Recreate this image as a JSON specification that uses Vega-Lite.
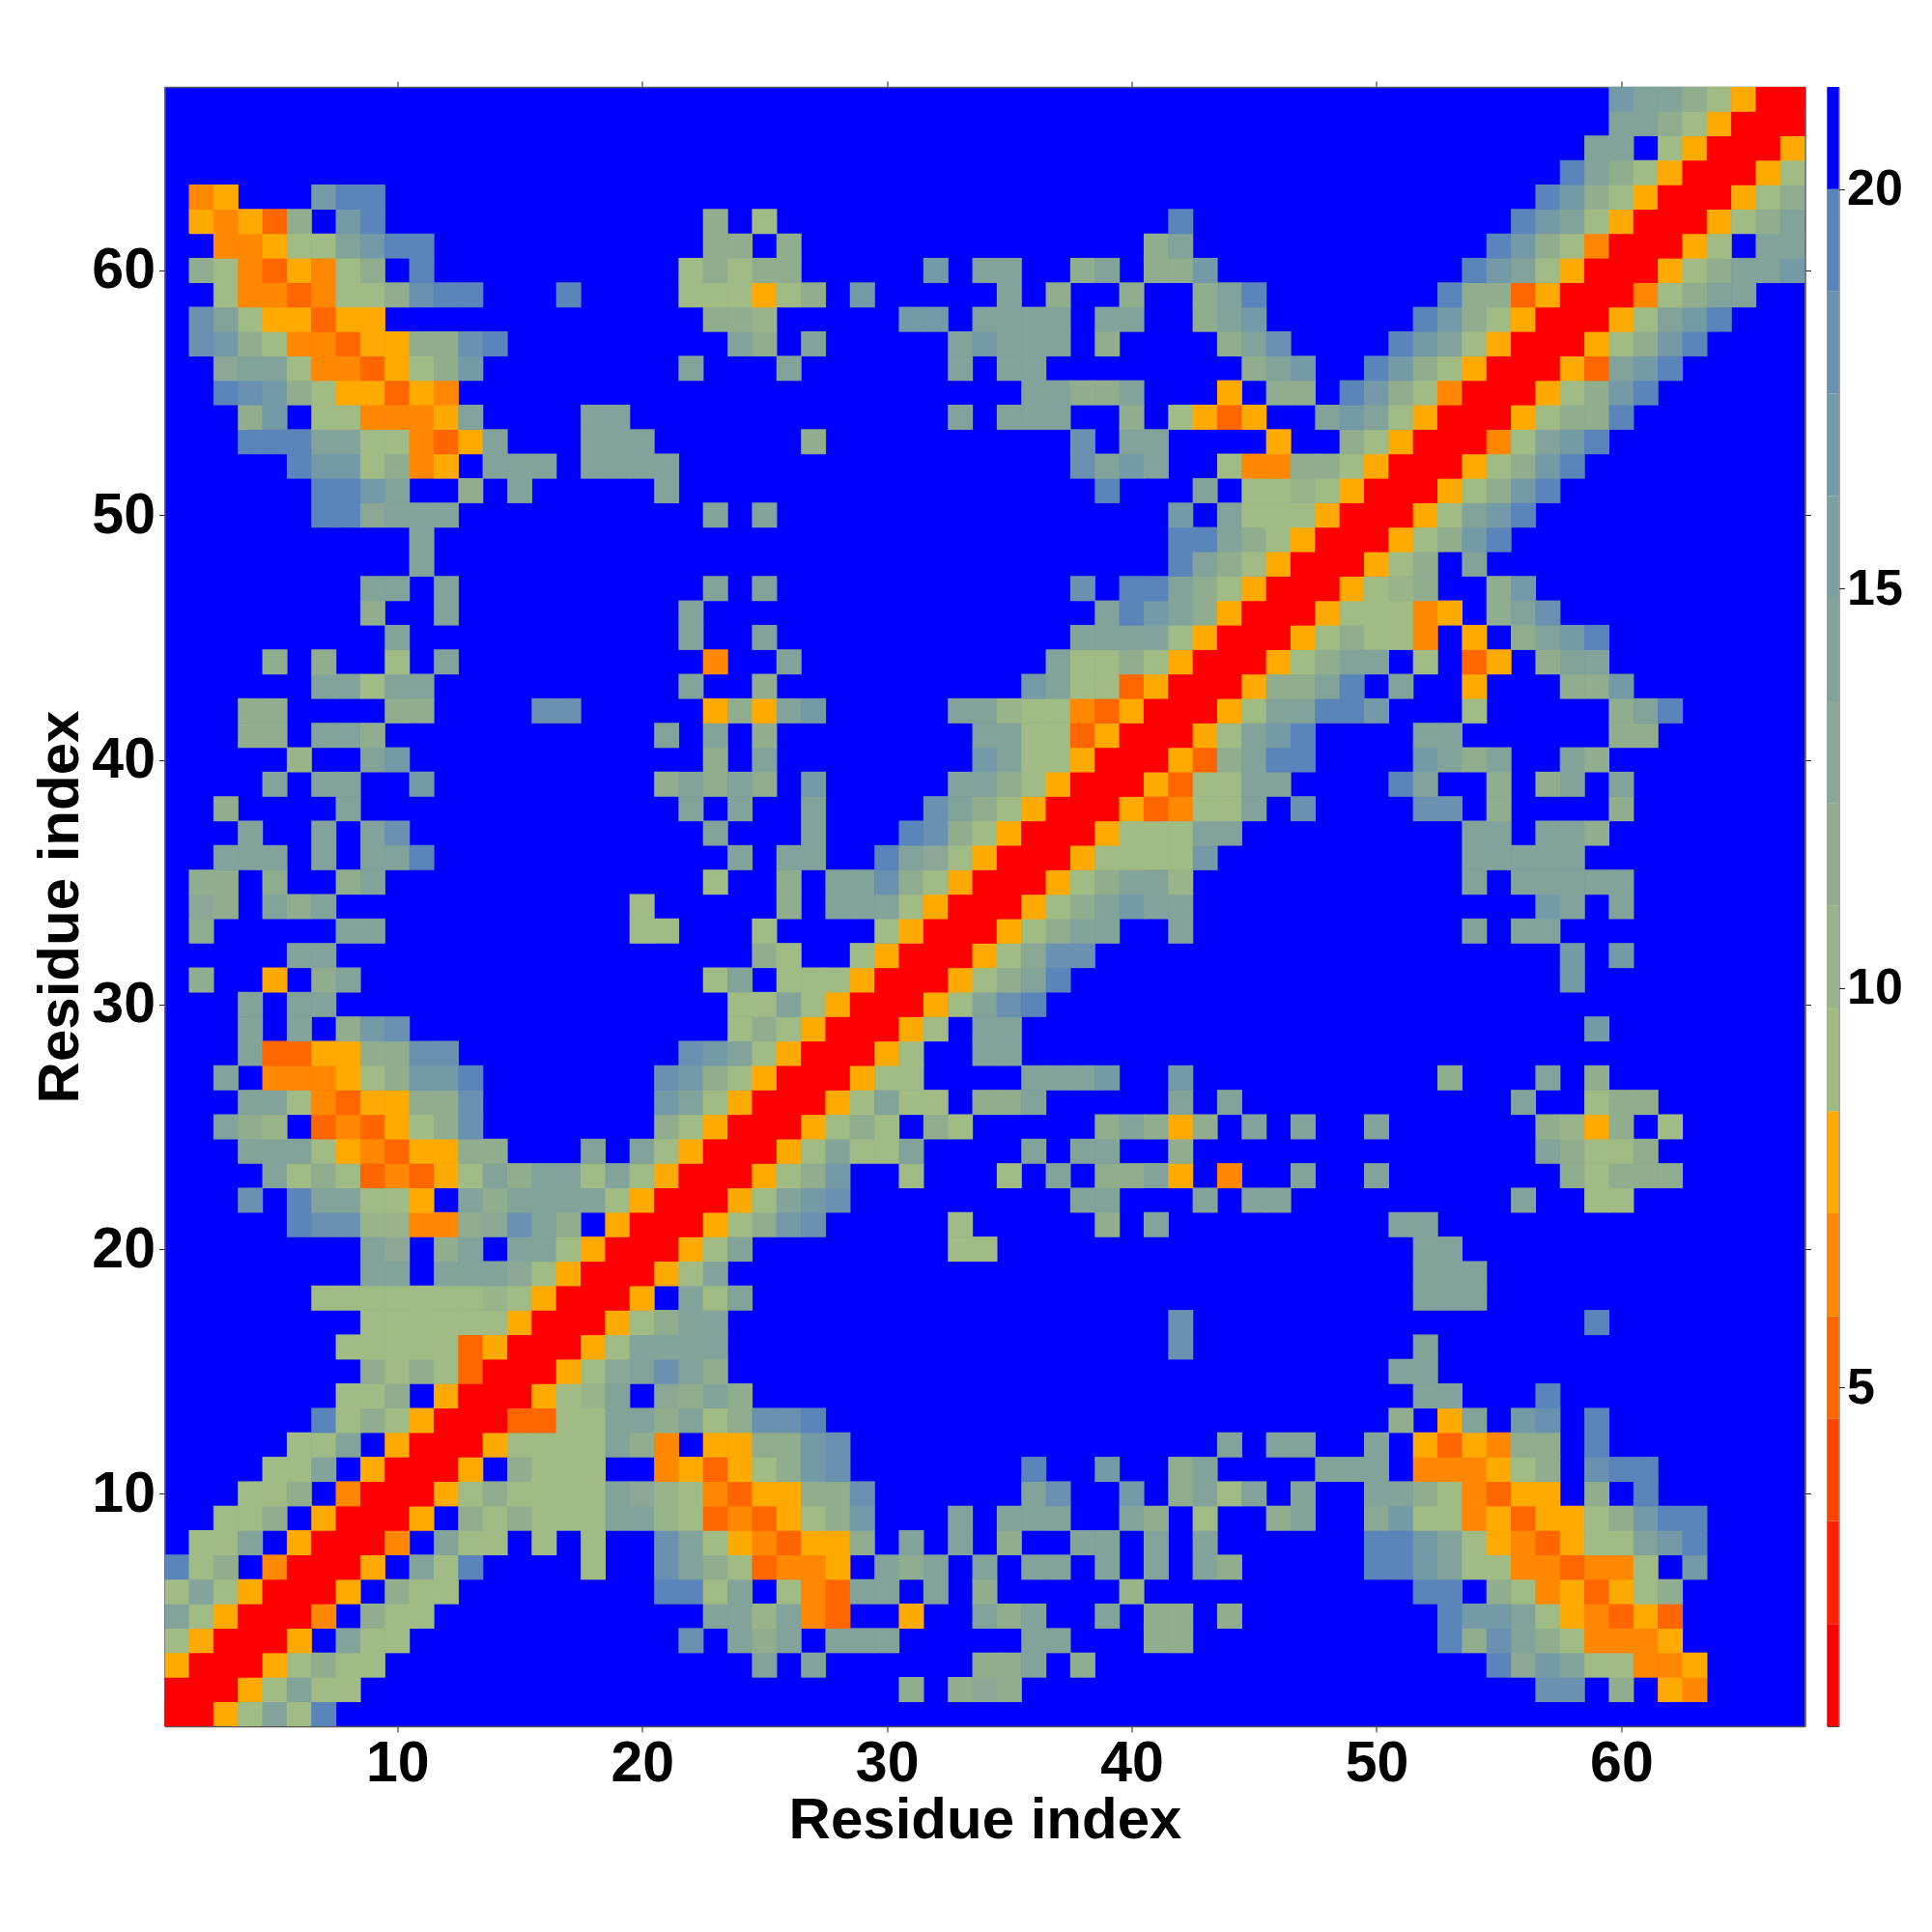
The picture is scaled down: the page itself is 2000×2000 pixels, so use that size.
{"$schema":"https://vega.github.io/schema/vega-lite/v6.json","background":"white","padding":{"left":32.5,"top":83,"right":10,"bottom":10},"bounds":"flush","spacing":23,"config":{"axis":{"labelFont":"Liberation Sans","labelFontWeight":"bold","titleFont":"Liberation Sans","titleFontWeight":"bold","labelColor":"black","titleColor":"black","grid":false,"tickColor":"#222222","tickWidth":1,"tickSize":6,"domainColor":"#555555","domainWidth":1.5}},"hconcat":[{"width":1698,"height":1697,"view":{"fill":"#0000ff","stroke":null},"data":{"values":[
{"y":1,"x":1,"v":1},{"y":1,"x":2,"v":1},{"y":1,"x":3,"v":8},{"y":1,"x":4,"v":9},{"y":1,"x":5,"v":14},{"y":1,"x":6,"v":9},{"y":1,"x":7,"v":19},
{"y":2,"x":2,"v":1},{"y":2,"x":3,"v":1},{"y":2,"x":4,"v":8},{"y":2,"x":5,"v":9},{"y":2,"x":6,"v":14},{"y":2,"x":7,"v":9},{"y":2,"x":8,"v":9},{"y":2,"x":31,"v":12},{"y":2,"x":33,"v":12},{"y":2,"x":34,"v":13},{"y":2,"x":35,"v":12},{"y":2,"x":57,"v":18},{"y":2,"x":58,"v":18},{"y":2,"x":60,"v":12},{"y":2,"x":62,"v":8},{"y":2,"x":63,"v":6},
{"y":3,"x":3,"v":1},{"y":3,"x":4,"v":1},{"y":3,"x":5,"v":8},{"y":3,"x":6,"v":9},{"y":3,"x":7,"v":12},{"y":3,"x":8,"v":9},{"y":3,"x":9,"v":9},{"y":3,"x":25,"v":14},{"y":3,"x":27,"v":14},{"y":3,"x":34,"v":12},{"y":3,"x":35,"v":12},{"y":3,"x":36,"v":14},{"y":3,"x":38,"v":12},{"y":3,"x":55,"v":19},{"y":3,"x":56,"v":13},{"y":3,"x":57,"v":17},{"y":3,"x":58,"v":14},{"y":3,"x":59,"v":9},{"y":3,"x":60,"v":9},{"y":3,"x":61,"v":6},{"y":3,"x":62,"v":6},{"y":3,"x":63,"v":8},
{"y":4,"x":4,"v":1},{"y":4,"x":5,"v":1},{"y":4,"x":6,"v":8},{"y":4,"x":8,"v":14},{"y":4,"x":9,"v":9},{"y":4,"x":10,"v":9},{"y":4,"x":22,"v":18},{"y":4,"x":24,"v":14},{"y":4,"x":25,"v":12},{"y":4,"x":26,"v":14},{"y":4,"x":28,"v":14},{"y":4,"x":29,"v":14},{"y":4,"x":30,"v":14},{"y":4,"x":36,"v":14},{"y":4,"x":37,"v":14},{"y":4,"x":41,"v":12},{"y":4,"x":42,"v":12},{"y":4,"x":53,"v":19},{"y":4,"x":54,"v":12},{"y":4,"x":55,"v":18},{"y":4,"x":56,"v":14},{"y":4,"x":57,"v":12},{"y":4,"x":58,"v":9},{"y":4,"x":59,"v":6},{"y":4,"x":60,"v":6},{"y":4,"x":61,"v":6},{"y":4,"x":62,"v":8},
{"y":5,"x":5,"v":1},{"y":5,"x":6,"v":1},{"y":5,"x":7,"v":6},{"y":5,"x":9,"v":12},{"y":5,"x":10,"v":9},{"y":5,"x":11,"v":9},{"y":5,"x":23,"v":14},{"y":5,"x":24,"v":14},{"y":5,"x":25,"v":10},{"y":5,"x":26,"v":14},{"y":5,"x":27,"v":6},{"y":5,"x":28,"v":5},{"y":5,"x":31,"v":8},{"y":5,"x":34,"v":14},{"y":5,"x":35,"v":12},{"y":5,"x":36,"v":14},{"y":5,"x":39,"v":14},{"y":5,"x":41,"v":12},{"y":5,"x":42,"v":12},{"y":5,"x":44,"v":12},{"y":5,"x":53,"v":19},{"y":5,"x":54,"v":17},{"y":5,"x":55,"v":17},{"y":5,"x":56,"v":14},{"y":5,"x":57,"v":9},{"y":5,"x":58,"v":8},{"y":5,"x":59,"v":6},{"y":5,"x":60,"v":5},{"y":5,"x":61,"v":8},{"y":5,"x":62,"v":5},
{"y":6,"x":6,"v":1},{"y":6,"x":7,"v":1},{"y":6,"x":8,"v":8},{"y":6,"x":10,"v":12},{"y":6,"x":11,"v":9},{"y":6,"x":12,"v":9},{"y":6,"x":21,"v":19},{"y":6,"x":22,"v":19},{"y":6,"x":23,"v":9},{"y":6,"x":24,"v":14},{"y":6,"x":26,"v":9},{"y":6,"x":27,"v":6},{"y":6,"x":28,"v":5},{"y":6,"x":29,"v":14},{"y":6,"x":30,"v":14},{"y":6,"x":32,"v":14},{"y":6,"x":34,"v":12},{"y":6,"x":40,"v":10},{"y":6,"x":52,"v":19},{"y":6,"x":53,"v":19},{"y":6,"x":55,"v":12},{"y":6,"x":56,"v":9},{"y":6,"x":57,"v":6},{"y":6,"x":58,"v":8},{"y":6,"x":59,"v":5},{"y":6,"x":60,"v":8},{"y":6,"x":61,"v":9},{"y":6,"x":62,"v":12},
{"y":7,"x":7,"v":1},{"y":7,"x":8,"v":1},{"y":7,"x":9,"v":8},{"y":7,"x":11,"v":14},{"y":7,"x":12,"v":9},{"y":7,"x":13,"v":19},{"y":7,"x":18,"v":9},{"y":7,"x":21,"v":18},{"y":7,"x":22,"v":14},{"y":7,"x":23,"v":12},{"y":7,"x":24,"v":9},{"y":7,"x":25,"v":5},{"y":7,"x":26,"v":6},{"y":7,"x":27,"v":6},{"y":7,"x":28,"v":8},{"y":7,"x":30,"v":14},{"y":7,"x":31,"v":12},{"y":7,"x":32,"v":14},{"y":7,"x":34,"v":14},{"y":7,"x":36,"v":14},{"y":7,"x":37,"v":14},{"y":7,"x":39,"v":14},{"y":7,"x":41,"v":14},{"y":7,"x":43,"v":14},{"y":7,"x":44,"v":12},{"y":7,"x":50,"v":19},{"y":7,"x":51,"v":19},{"y":7,"x":52,"v":17},{"y":7,"x":53,"v":14},{"y":7,"x":54,"v":9},{"y":7,"x":55,"v":9},{"y":7,"x":56,"v":6},{"y":7,"x":57,"v":6},{"y":7,"x":58,"v":5},{"y":7,"x":59,"v":6},{"y":7,"x":60,"v":6},{"y":7,"x":61,"v":9},{"y":7,"x":63,"v":17},
{"y":8,"x":8,"v":1},{"y":8,"x":9,"v":1},{"y":8,"x":10,"v":6},{"y":8,"x":12,"v":14},{"y":8,"x":13,"v":9},{"y":8,"x":14,"v":9},{"y":8,"x":16,"v":9},{"y":8,"x":18,"v":9},{"y":8,"x":21,"v":18},{"y":8,"x":22,"v":14},{"y":8,"x":23,"v":9},{"y":8,"x":24,"v":8},{"y":8,"x":25,"v":6},{"y":8,"x":26,"v":5},{"y":8,"x":27,"v":8},{"y":8,"x":28,"v":8},{"y":8,"x":29,"v":12},{"y":8,"x":31,"v":14},{"y":8,"x":33,"v":14},{"y":8,"x":35,"v":12},{"y":8,"x":38,"v":14},{"y":8,"x":39,"v":14},{"y":8,"x":41,"v":14},{"y":8,"x":43,"v":14},{"y":8,"x":50,"v":19},{"y":8,"x":51,"v":19},{"y":8,"x":52,"v":17},{"y":8,"x":53,"v":14},{"y":8,"x":54,"v":9},{"y":8,"x":55,"v":8},{"y":8,"x":56,"v":6},{"y":8,"x":57,"v":5},{"y":8,"x":58,"v":8},{"y":8,"x":59,"v":9},{"y":8,"x":60,"v":9},{"y":8,"x":61,"v":14},{"y":8,"x":62,"v":17},{"y":8,"x":63,"v":19},
{"y":9,"x":9,"v":1},{"y":9,"x":10,"v":1},{"y":9,"x":11,"v":8},{"y":9,"x":13,"v":12},{"y":9,"x":14,"v":9},{"y":9,"x":15,"v":12},{"y":9,"x":16,"v":9},{"y":9,"x":17,"v":9},{"y":9,"x":18,"v":9},{"y":9,"x":19,"v":14},{"y":9,"x":20,"v":14},{"y":9,"x":21,"v":10},{"y":9,"x":22,"v":9},{"y":9,"x":23,"v":5},{"y":9,"x":24,"v":6},{"y":9,"x":25,"v":5},{"y":9,"x":26,"v":8},{"y":9,"x":27,"v":9},{"y":9,"x":28,"v":12},{"y":9,"x":29,"v":17},{"y":9,"x":33,"v":14},{"y":9,"x":35,"v":14},{"y":9,"x":36,"v":14},{"y":9,"x":37,"v":14},{"y":9,"x":40,"v":14},{"y":9,"x":41,"v":12},{"y":9,"x":43,"v":9},{"y":9,"x":46,"v":12},{"y":9,"x":47,"v":14},{"y":9,"x":50,"v":13},{"y":9,"x":51,"v":17},{"y":9,"x":52,"v":9},{"y":9,"x":53,"v":9},{"y":9,"x":54,"v":6},{"y":9,"x":55,"v":8},{"y":9,"x":56,"v":5},{"y":9,"x":57,"v":8},{"y":9,"x":58,"v":8},{"y":9,"x":59,"v":9},{"y":9,"x":60,"v":12},{"y":9,"x":61,"v":17},{"y":9,"x":62,"v":19},{"y":9,"x":63,"v":19},
{"y":10,"x":10,"v":1},{"y":10,"x":11,"v":1},{"y":10,"x":12,"v":8},{"y":10,"x":13,"v":9},{"y":10,"x":14,"v":12},{"y":10,"x":15,"v":9},{"y":10,"x":16,"v":9},{"y":10,"x":17,"v":9},{"y":10,"x":18,"v":9},{"y":10,"x":19,"v":14},{"y":10,"x":20,"v":13},{"y":10,"x":21,"v":10},{"y":10,"x":22,"v":9},{"y":10,"x":23,"v":6},{"y":10,"x":24,"v":5},{"y":10,"x":25,"v":8},{"y":10,"x":26,"v":8},{"y":10,"x":27,"v":12},{"y":10,"x":28,"v":12},{"y":10,"x":29,"v":18},{"y":10,"x":36,"v":14},{"y":10,"x":37,"v":18},{"y":10,"x":40,"v":17},{"y":10,"x":42,"v":12},{"y":10,"x":43,"v":14},{"y":10,"x":44,"v":9},{"y":10,"x":45,"v":14},{"y":10,"x":47,"v":14},{"y":10,"x":50,"v":14},{"y":10,"x":51,"v":14},{"y":10,"x":52,"v":12},{"y":10,"x":53,"v":9},{"y":10,"x":54,"v":6},{"y":10,"x":55,"v":5},{"y":10,"x":56,"v":8},{"y":10,"x":57,"v":8},{"y":10,"x":59,"v":12},{"y":10,"x":61,"v":19},
{"y":11,"x":11,"v":1},{"y":11,"x":12,"v":1},{"y":11,"x":13,"v":8},{"y":11,"x":15,"v":12},{"y":11,"x":16,"v":9},{"y":11,"x":17,"v":9},{"y":11,"x":18,"v":9},{"y":11,"x":21,"v":6},{"y":11,"x":22,"v":8},{"y":11,"x":23,"v":5},{"y":11,"x":24,"v":8},{"y":11,"x":25,"v":9},{"y":11,"x":26,"v":12},{"y":11,"x":27,"v":17},{"y":11,"x":28,"v":18},{"y":11,"x":36,"v":19},{"y":11,"x":39,"v":17},{"y":11,"x":42,"v":12},{"y":11,"x":43,"v":14},{"y":11,"x":48,"v":14},{"y":11,"x":49,"v":14},{"y":11,"x":50,"v":14},{"y":11,"x":52,"v":6},{"y":11,"x":53,"v":6},{"y":11,"x":54,"v":6},{"y":11,"x":55,"v":8},{"y":11,"x":56,"v":9},{"y":11,"x":57,"v":12},{"y":11,"x":59,"v":18},{"y":11,"x":60,"v":19},{"y":11,"x":61,"v":19},
{"y":12,"x":12,"v":1},{"y":12,"x":13,"v":1},{"y":12,"x":14,"v":8},{"y":12,"x":15,"v":9},{"y":12,"x":16,"v":9},{"y":12,"x":17,"v":9},{"y":12,"x":18,"v":9},{"y":12,"x":19,"v":14},{"y":12,"x":20,"v":12},{"y":12,"x":21,"v":6},{"y":12,"x":23,"v":8},{"y":12,"x":24,"v":8},{"y":12,"x":25,"v":12},{"y":12,"x":26,"v":12},{"y":12,"x":27,"v":17},{"y":12,"x":28,"v":18},{"y":12,"x":44,"v":14},{"y":12,"x":46,"v":14},{"y":12,"x":47,"v":14},{"y":12,"x":50,"v":14},{"y":12,"x":52,"v":8},{"y":12,"x":53,"v":5},{"y":12,"x":54,"v":8},{"y":12,"x":55,"v":6},{"y":12,"x":56,"v":12},{"y":12,"x":57,"v":12},{"y":12,"x":59,"v":19},
{"y":13,"x":13,"v":1},{"y":13,"x":14,"v":1},{"y":13,"x":15,"v":5},{"y":13,"x":16,"v":5},{"y":13,"x":17,"v":9},{"y":13,"x":18,"v":9},{"y":13,"x":19,"v":14},{"y":13,"x":20,"v":14},{"y":13,"x":21,"v":12},{"y":13,"x":22,"v":14},{"y":13,"x":23,"v":9},{"y":13,"x":24,"v":12},{"y":13,"x":25,"v":18},{"y":13,"x":26,"v":18},{"y":13,"x":27,"v":19},{"y":13,"x":51,"v":12},{"y":13,"x":53,"v":8},{"y":13,"x":54,"v":14},{"y":13,"x":56,"v":17},{"y":13,"x":57,"v":18},{"y":13,"x":59,"v":19},
{"y":14,"x":14,"v":1},{"y":14,"x":15,"v":1},{"y":14,"x":16,"v":8},{"y":14,"x":17,"v":9},{"y":14,"x":18,"v":10},{"y":14,"x":19,"v":14},{"y":14,"x":21,"v":13},{"y":14,"x":22,"v":12},{"y":14,"x":23,"v":14},{"y":14,"x":24,"v":12},{"y":14,"x":52,"v":14},{"y":14,"x":53,"v":14},{"y":14,"x":57,"v":19},
{"y":15,"x":15,"v":1},{"y":15,"x":16,"v":1},{"y":15,"x":17,"v":8},{"y":15,"x":18,"v":9},{"y":15,"x":19,"v":13},{"y":15,"x":20,"v":14},{"y":15,"x":21,"v":18},{"y":15,"x":22,"v":14},{"y":15,"x":23,"v":12},{"y":15,"x":51,"v":14},{"y":15,"x":52,"v":14},
{"y":16,"x":16,"v":1},{"y":16,"x":17,"v":1},{"y":16,"x":18,"v":8},{"y":16,"x":19,"v":9},{"y":16,"x":20,"v":14},{"y":16,"x":21,"v":14},{"y":16,"x":22,"v":14},{"y":16,"x":23,"v":14},{"y":16,"x":42,"v":18},{"y":16,"x":52,"v":14},
{"y":17,"x":17,"v":1},{"y":17,"x":18,"v":1},{"y":17,"x":19,"v":8},{"y":17,"x":20,"v":9},{"y":17,"x":21,"v":12},{"y":17,"x":22,"v":14},{"y":17,"x":23,"v":14},{"y":17,"x":42,"v":18},{"y":17,"x":59,"v":19},
{"y":18,"x":18,"v":1},{"y":18,"x":19,"v":1},{"y":18,"x":20,"v":8},{"y":18,"x":22,"v":14},{"y":18,"x":23,"v":9},{"y":18,"x":24,"v":14},{"y":18,"x":52,"v":14},{"y":18,"x":53,"v":14},{"y":18,"x":54,"v":14},
{"y":19,"x":19,"v":1},{"y":19,"x":20,"v":1},{"y":19,"x":21,"v":8},{"y":19,"x":22,"v":9},{"y":19,"x":23,"v":14},{"y":19,"x":52,"v":14},{"y":19,"x":53,"v":14},{"y":19,"x":54,"v":14},
{"y":20,"x":20,"v":1},{"y":20,"x":21,"v":1},{"y":20,"x":22,"v":8},{"y":20,"x":23,"v":9},{"y":20,"x":24,"v":14},{"y":20,"x":33,"v":9},{"y":20,"x":34,"v":9},{"y":20,"x":52,"v":14},{"y":20,"x":53,"v":14},
{"y":21,"x":21,"v":1},{"y":21,"x":22,"v":1},{"y":21,"x":23,"v":8},{"y":21,"x":24,"v":9},{"y":21,"x":25,"v":12},{"y":21,"x":26,"v":17},{"y":21,"x":27,"v":18},{"y":21,"x":33,"v":9},{"y":21,"x":39,"v":12},{"y":21,"x":41,"v":14},{"y":21,"x":51,"v":14},{"y":21,"x":52,"v":14},
{"y":22,"x":22,"v":1},{"y":22,"x":23,"v":1},{"y":22,"x":24,"v":8},{"y":22,"x":25,"v":9},{"y":22,"x":26,"v":14},{"y":22,"x":27,"v":17},{"y":22,"x":28,"v":18},{"y":22,"x":38,"v":14},{"y":22,"x":39,"v":14},{"y":22,"x":43,"v":14},{"y":22,"x":45,"v":14},{"y":22,"x":46,"v":14},{"y":22,"x":56,"v":14},{"y":22,"x":59,"v":9},{"y":22,"x":60,"v":9},
{"y":23,"x":23,"v":1},{"y":23,"x":24,"v":1},{"y":23,"x":25,"v":8},{"y":23,"x":26,"v":9},{"y":23,"x":27,"v":12},{"y":23,"x":28,"v":17},{"y":23,"x":31,"v":9},{"y":23,"x":35,"v":9},{"y":23,"x":37,"v":14},{"y":23,"x":39,"v":12},{"y":23,"x":40,"v":12},{"y":23,"x":41,"v":14},{"y":23,"x":42,"v":8},{"y":23,"x":44,"v":6},{"y":23,"x":47,"v":14},{"y":23,"x":50,"v":14},{"y":23,"x":58,"v":12},{"y":23,"x":59,"v":9},{"y":23,"x":60,"v":12},{"y":23,"x":61,"v":12},{"y":23,"x":62,"v":12},
{"y":24,"x":24,"v":1},{"y":24,"x":25,"v":1},{"y":24,"x":26,"v":8},{"y":24,"x":27,"v":9},{"y":24,"x":28,"v":14},{"y":24,"x":29,"v":9},{"y":24,"x":30,"v":9},{"y":24,"x":31,"v":14},{"y":24,"x":36,"v":14},{"y":24,"x":38,"v":14},{"y":24,"x":39,"v":14},{"y":24,"x":42,"v":12},{"y":24,"x":57,"v":14},{"y":24,"x":58,"v":12},{"y":24,"x":59,"v":9},{"y":24,"x":60,"v":9},{"y":24,"x":61,"v":12},
{"y":25,"x":25,"v":1},{"y":25,"x":26,"v":1},{"y":25,"x":27,"v":8},{"y":25,"x":28,"v":9},{"y":25,"x":29,"v":12},{"y":25,"x":30,"v":9},{"y":25,"x":32,"v":12},{"y":25,"x":33,"v":9},{"y":25,"x":39,"v":12},{"y":25,"x":40,"v":14},{"y":25,"x":41,"v":12},{"y":25,"x":42,"v":8},{"y":25,"x":43,"v":12},{"y":25,"x":45,"v":14},{"y":25,"x":47,"v":14},{"y":25,"x":50,"v":14},{"y":25,"x":57,"v":12},{"y":25,"x":58,"v":10},{"y":25,"x":59,"v":8},{"y":25,"x":60,"v":12},{"y":25,"x":62,"v":9},
{"y":26,"x":26,"v":1},{"y":26,"x":27,"v":1},{"y":26,"x":28,"v":8},{"y":26,"x":29,"v":9},{"y":26,"x":30,"v":14},{"y":26,"x":31,"v":9},{"y":26,"x":32,"v":9},{"y":26,"x":34,"v":12},{"y":26,"x":35,"v":12},{"y":26,"x":36,"v":14},{"y":26,"x":42,"v":14},{"y":26,"x":44,"v":14},{"y":26,"x":56,"v":14},{"y":26,"x":59,"v":9},{"y":26,"x":60,"v":12},{"y":26,"x":61,"v":12},
{"y":27,"x":27,"v":1},{"y":27,"x":28,"v":1},{"y":27,"x":29,"v":8},{"y":27,"x":30,"v":9},{"y":27,"x":31,"v":9},{"y":27,"x":36,"v":14},{"y":27,"x":37,"v":14},{"y":27,"x":38,"v":14},{"y":27,"x":39,"v":17},{"y":27,"x":42,"v":17},{"y":27,"x":53,"v":12},{"y":27,"x":57,"v":14},{"y":27,"x":59,"v":12},
{"y":28,"x":28,"v":1},{"y":28,"x":29,"v":1},{"y":28,"x":30,"v":8},{"y":28,"x":31,"v":9},{"y":28,"x":34,"v":14},{"y":28,"x":35,"v":14},
{"y":29,"x":29,"v":1},{"y":29,"x":30,"v":1},{"y":29,"x":31,"v":8},{"y":29,"x":32,"v":9},{"y":29,"x":34,"v":14},{"y":29,"x":35,"v":14},{"y":29,"x":59,"v":17},
{"y":30,"x":30,"v":1},{"y":30,"x":31,"v":1},{"y":30,"x":32,"v":8},{"y":30,"x":33,"v":9},{"y":30,"x":34,"v":14},{"y":30,"x":35,"v":18},{"y":30,"x":36,"v":19},
{"y":31,"x":31,"v":1},{"y":31,"x":32,"v":1},{"y":31,"x":33,"v":8},{"y":31,"x":34,"v":9},{"y":31,"x":35,"v":12},{"y":31,"x":36,"v":14},{"y":31,"x":37,"v":19},{"y":31,"x":58,"v":17},
{"y":32,"x":32,"v":1},{"y":32,"x":33,"v":1},{"y":32,"x":34,"v":8},{"y":32,"x":35,"v":9},{"y":32,"x":36,"v":13},{"y":32,"x":37,"v":18},{"y":32,"x":38,"v":18},{"y":32,"x":58,"v":17},{"y":32,"x":60,"v":17},
{"y":33,"x":33,"v":1},{"y":33,"x":34,"v":1},{"y":33,"x":35,"v":8},{"y":33,"x":36,"v":9},{"y":33,"x":37,"v":12},{"y":33,"x":38,"v":14},{"y":33,"x":39,"v":14},{"y":33,"x":42,"v":14},{"y":33,"x":54,"v":14},{"y":33,"x":56,"v":14},{"y":33,"x":57,"v":14},
{"y":34,"x":34,"v":1},{"y":34,"x":35,"v":1},{"y":34,"x":36,"v":8},{"y":34,"x":37,"v":9},{"y":34,"x":38,"v":12},{"y":34,"x":39,"v":14},{"y":34,"x":40,"v":17},{"y":34,"x":41,"v":14},{"y":34,"x":42,"v":14},{"y":34,"x":57,"v":17},{"y":34,"x":58,"v":14},{"y":34,"x":60,"v":14},
{"y":35,"x":35,"v":1},{"y":35,"x":36,"v":1},{"y":35,"x":37,"v":8},{"y":35,"x":38,"v":9},{"y":35,"x":39,"v":12},{"y":35,"x":40,"v":14},{"y":35,"x":41,"v":14},{"y":35,"x":42,"v":10},{"y":35,"x":54,"v":14},{"y":35,"x":56,"v":14},{"y":35,"x":57,"v":14},{"y":35,"x":58,"v":14},{"y":35,"x":59,"v":14},{"y":35,"x":60,"v":14},
{"y":36,"x":36,"v":1},{"y":36,"x":37,"v":1},{"y":36,"x":38,"v":8},{"y":36,"x":39,"v":9},{"y":36,"x":40,"v":9},{"y":36,"x":41,"v":9},{"y":36,"x":42,"v":9},{"y":36,"x":43,"v":17},{"y":36,"x":54,"v":14},{"y":36,"x":55,"v":14},{"y":36,"x":56,"v":14},{"y":36,"x":57,"v":14},{"y":36,"x":58,"v":14},
{"y":37,"x":37,"v":1},{"y":37,"x":38,"v":1},{"y":37,"x":39,"v":8},{"y":37,"x":40,"v":9},{"y":37,"x":41,"v":9},{"y":37,"x":42,"v":9},{"y":37,"x":43,"v":14},{"y":37,"x":44,"v":14},{"y":37,"x":54,"v":14},{"y":37,"x":55,"v":14},{"y":37,"x":57,"v":14},{"y":37,"x":58,"v":14},{"y":37,"x":59,"v":12},
{"y":38,"x":38,"v":1},{"y":38,"x":39,"v":1},{"y":38,"x":40,"v":8},{"y":38,"x":41,"v":5},{"y":38,"x":42,"v":6},{"y":38,"x":43,"v":9},{"y":38,"x":44,"v":9},{"y":38,"x":45,"v":14},{"y":38,"x":47,"v":18},{"y":38,"x":52,"v":18},{"y":38,"x":53,"v":18},{"y":38,"x":55,"v":12},{"y":38,"x":60,"v":12},
{"y":39,"x":39,"v":1},{"y":39,"x":40,"v":1},{"y":39,"x":41,"v":8},{"y":39,"x":42,"v":5},{"y":39,"x":43,"v":9},{"y":39,"x":44,"v":9},{"y":39,"x":45,"v":14},{"y":39,"x":46,"v":14},{"y":39,"x":51,"v":19},{"y":39,"x":52,"v":14},{"y":39,"x":55,"v":12},{"y":39,"x":57,"v":12},{"y":39,"x":58,"v":14},{"y":39,"x":60,"v":14},
{"y":40,"x":40,"v":1},{"y":40,"x":41,"v":1},{"y":40,"x":42,"v":8},{"y":40,"x":43,"v":5},{"y":40,"x":44,"v":12},{"y":40,"x":45,"v":14},{"y":40,"x":46,"v":19},{"y":40,"x":47,"v":19},{"y":40,"x":52,"v":17},{"y":40,"x":53,"v":14},{"y":40,"x":54,"v":12},{"y":40,"x":55,"v":14},{"y":40,"x":58,"v":14},{"y":40,"x":59,"v":12},
{"y":41,"x":41,"v":1},{"y":41,"x":42,"v":1},{"y":41,"x":43,"v":8},{"y":41,"x":44,"v":9},{"y":41,"x":45,"v":14},{"y":41,"x":46,"v":17},{"y":41,"x":47,"v":19},{"y":41,"x":52,"v":14},{"y":41,"x":53,"v":14},{"y":41,"x":60,"v":12},{"y":41,"x":61,"v":12},
{"y":42,"x":42,"v":1},{"y":42,"x":43,"v":1},{"y":42,"x":44,"v":8},{"y":42,"x":45,"v":9},{"y":42,"x":46,"v":14},{"y":42,"x":47,"v":14},{"y":42,"x":48,"v":19},{"y":42,"x":49,"v":19},{"y":42,"x":50,"v":17},{"y":42,"x":54,"v":9},{"y":42,"x":60,"v":12},{"y":42,"x":61,"v":14},{"y":42,"x":62,"v":19},
{"y":43,"x":43,"v":1},{"y":43,"x":44,"v":1},{"y":43,"x":45,"v":8},{"y":43,"x":46,"v":12},{"y":43,"x":47,"v":12},{"y":43,"x":48,"v":14},{"y":43,"x":49,"v":19},{"y":43,"x":51,"v":14},{"y":43,"x":54,"v":8},{"y":43,"x":58,"v":12},{"y":43,"x":59,"v":12},{"y":43,"x":60,"v":17},
{"y":44,"x":44,"v":1},{"y":44,"x":45,"v":1},{"y":44,"x":46,"v":8},{"y":44,"x":47,"v":9},{"y":44,"x":48,"v":12},{"y":44,"x":49,"v":14},{"y":44,"x":50,"v":14},{"y":44,"x":52,"v":9},{"y":44,"x":54,"v":5},{"y":44,"x":55,"v":8},{"y":44,"x":57,"v":12},{"y":44,"x":58,"v":14},{"y":44,"x":59,"v":14},
{"y":45,"x":45,"v":1},{"y":45,"x":46,"v":1},{"y":45,"x":47,"v":8},{"y":45,"x":48,"v":9},{"y":45,"x":49,"v":12},{"y":45,"x":50,"v":9},{"y":45,"x":51,"v":9},{"y":45,"x":52,"v":6},{"y":45,"x":54,"v":8},{"y":45,"x":56,"v":12},{"y":45,"x":57,"v":14},{"y":45,"x":58,"v":17},{"y":45,"x":59,"v":19},
{"y":46,"x":46,"v":1},{"y":46,"x":47,"v":1},{"y":46,"x":48,"v":8},{"y":46,"x":49,"v":9},{"y":46,"x":50,"v":9},{"y":46,"x":51,"v":9},{"y":46,"x":52,"v":6},{"y":46,"x":53,"v":8},{"y":46,"x":55,"v":12},{"y":46,"x":56,"v":14},{"y":46,"x":57,"v":18},
{"y":47,"x":47,"v":1},{"y":47,"x":48,"v":1},{"y":47,"x":49,"v":8},{"y":47,"x":50,"v":9},{"y":47,"x":51,"v":10},{"y":47,"x":52,"v":12},{"y":47,"x":55,"v":12},{"y":47,"x":56,"v":17},
{"y":48,"x":48,"v":1},{"y":48,"x":49,"v":1},{"y":48,"x":50,"v":8},{"y":48,"x":51,"v":9},{"y":48,"x":52,"v":12},{"y":48,"x":54,"v":14},
{"y":49,"x":49,"v":1},{"y":49,"x":50,"v":1},{"y":49,"x":51,"v":8},{"y":49,"x":52,"v":9},{"y":49,"x":53,"v":12},{"y":49,"x":54,"v":17},{"y":49,"x":55,"v":19},
{"y":50,"x":50,"v":1},{"y":50,"x":51,"v":1},{"y":50,"x":52,"v":8},{"y":50,"x":53,"v":9},{"y":50,"x":54,"v":14},{"y":50,"x":55,"v":17},{"y":50,"x":56,"v":19},
{"y":51,"x":51,"v":1},{"y":51,"x":52,"v":1},{"y":51,"x":53,"v":8},{"y":51,"x":54,"v":9},{"y":51,"x":55,"v":12},{"y":51,"x":56,"v":17},{"y":51,"x":57,"v":19},
{"y":52,"x":52,"v":1},{"y":52,"x":53,"v":1},{"y":52,"x":54,"v":8},{"y":52,"x":55,"v":9},{"y":52,"x":56,"v":12},{"y":52,"x":57,"v":17},{"y":52,"x":58,"v":19},
{"y":53,"x":53,"v":1},{"y":53,"x":54,"v":1},{"y":53,"x":55,"v":6},{"y":53,"x":56,"v":9},{"y":53,"x":57,"v":14},{"y":53,"x":58,"v":17},{"y":53,"x":59,"v":19},
{"y":54,"x":54,"v":1},{"y":54,"x":55,"v":1},{"y":54,"x":56,"v":8},{"y":54,"x":57,"v":9},{"y":54,"x":58,"v":12},{"y":54,"x":59,"v":12},{"y":54,"x":60,"v":19},
{"y":55,"x":55,"v":1},{"y":55,"x":56,"v":1},{"y":55,"x":57,"v":8},{"y":55,"x":58,"v":9},{"y":55,"x":59,"v":12},{"y":55,"x":60,"v":17},{"y":55,"x":61,"v":19},
{"y":56,"x":56,"v":1},{"y":56,"x":57,"v":1},{"y":56,"x":58,"v":8},{"y":56,"x":59,"v":5},{"y":56,"x":60,"v":14},{"y":56,"x":61,"v":17},{"y":56,"x":62,"v":19},
{"y":57,"x":57,"v":1},{"y":57,"x":58,"v":1},{"y":57,"x":59,"v":8},{"y":57,"x":60,"v":9},{"y":57,"x":61,"v":12},{"y":57,"x":62,"v":17},{"y":57,"x":63,"v":19},
{"y":58,"x":58,"v":1},{"y":58,"x":59,"v":1},{"y":58,"x":60,"v":8},{"y":58,"x":61,"v":9},{"y":58,"x":62,"v":14},{"y":58,"x":63,"v":17},{"y":58,"x":64,"v":19},
{"y":59,"x":59,"v":1},{"y":59,"x":60,"v":1},{"y":59,"x":61,"v":6},{"y":59,"x":62,"v":9},{"y":59,"x":63,"v":12},{"y":59,"x":64,"v":14},{"y":59,"x":65,"v":14},
{"y":60,"x":60,"v":1},{"y":60,"x":61,"v":1},{"y":60,"x":62,"v":8},{"y":60,"x":63,"v":9},{"y":60,"x":64,"v":12},{"y":60,"x":65,"v":14},{"y":60,"x":66,"v":14},{"y":60,"x":67,"v":17},
{"y":61,"x":61,"v":1},{"y":61,"x":62,"v":1},{"y":61,"x":63,"v":8},{"y":61,"x":64,"v":9},{"y":61,"x":66,"v":14},{"y":61,"x":67,"v":14},
{"y":62,"x":62,"v":1},{"y":62,"x":63,"v":1},{"y":62,"x":64,"v":8},{"y":62,"x":65,"v":9},{"y":62,"x":66,"v":12},{"y":62,"x":67,"v":14},
{"y":63,"x":63,"v":1},{"y":63,"x":64,"v":1},{"y":63,"x":65,"v":8},{"y":63,"x":66,"v":9},{"y":63,"x":67,"v":12},
{"y":64,"x":64,"v":1},{"y":64,"x":65,"v":1},{"y":64,"x":66,"v":8},{"y":64,"x":67,"v":9},
{"y":65,"x":65,"v":1},{"y":65,"x":66,"v":1},{"y":65,"x":67,"v":8},
{"y":66,"x":66,"v":1},{"y":66,"x":67,"v":1},
{"y":67,"x":67,"v":1}
]},"resolve":{"axis":{"x":"independent","y":"independent"}},"layer":[{"mark":{"type":"rect","width":26,"height":26,"clip":true},"encoding":{"x":{"field":"x","type":"quantitative","scale":{"domain":[0.5,67.5],"nice":false,"zero":false},"axis":{"values":[10,20,30,40,50,60],"title":"Residue index","labelFontSize":59,"titleFontSize":60,"labelPadding":3,"titlePadding":0,"format":"d","orient":"bottom"}},"y":{"field":"y","type":"quantitative","scale":{"domain":[0.5,67.5],"nice":false,"zero":false},"axis":{"values":[10,20,30,40,50,60],"title":"Residue index","labelFontSize":59,"titleFontSize":60,"labelPadding":4,"titlePadding":1,"format":"d","orient":"left"}},"color":{"field":"v","type":"quantitative","legend":null,"scale":{"type":"quantize","domain":[0.76,21.28],"range":["#ff0000","#ff2200","#ff4400","#ff6600","#ff8800","#ffaa00","#a1bb84","#99b489","#90ae8e","#8aa895","#82a399","#7c9f9f","#749aa8","#6a92b0","#5a85bb","#0000ff"]}}}},{"mark":{"type":"rect","width":26,"height":26,"clip":true},"encoding":{"x":{"field":"y","type":"quantitative","scale":{"domain":[0.5,67.5],"nice":false,"zero":false},"axis":{"values":[10,20,30,40,50,60],"title":null,"labels":false,"orient":"top"}},"y":{"field":"x","type":"quantitative","scale":{"domain":[0.5,67.5],"nice":false,"zero":false},"axis":{"values":[10,20,30,40,50,60],"title":null,"labels":false,"orient":"right"}},"color":{"field":"v","type":"quantitative","legend":null,"scale":{"type":"quantize","domain":[0.76,21.28],"range":["#ff0000","#ff2200","#ff4400","#ff6600","#ff8800","#ffaa00","#a1bb84","#99b489","#90ae8e","#8aa895","#82a399","#7c9f9f","#749aa8","#6a92b0","#5a85bb","#0000ff"]}}}}]},{"width":12,"height":1697,"view":{"stroke":"#444444"},"data":{"values":[{"lo":0.76,"hi":2.04,"v":1.4},{"lo":2.04,"hi":3.33,"v":2.7},{"lo":3.33,"hi":4.61,"v":4},{"lo":4.61,"hi":5.89,"v":5.2},{"lo":5.89,"hi":7.18,"v":6.5},{"lo":7.18,"hi":8.46,"v":7.8},{"lo":8.46,"hi":9.74,"v":9},{"lo":9.74,"hi":11.03,"v":10.4},{"lo":11.03,"hi":12.31,"v":11.7},{"lo":12.31,"hi":13.59,"v":13},{"lo":13.59,"hi":14.87,"v":14.2},{"lo":14.87,"hi":16.16,"v":15.5},{"lo":16.16,"hi":17.44,"v":16.8},{"lo":17.44,"hi":18.72,"v":18},{"lo":18.72,"hi":20,"v":19.4},{"lo":20,"hi":21.28,"v":20.6}]},"mark":{"type":"rect"},"encoding":{"y":{"field":"lo","type":"quantitative","scale":{"domain":[0.76,21.28],"nice":false,"zero":false},"axis":{"orient":"right","values":[5,10,15,20],"title":null,"labelFontSize":52,"labelPadding":2,"format":"d","domain":false}},"y2":{"field":"hi"},"color":{"field":"v","type":"quantitative","legend":null,"scale":{"type":"quantize","domain":[0.76,21.28],"range":["#ff0000","#ff2200","#ff4400","#ff6600","#ff8800","#ffaa00","#a1bb84","#99b489","#90ae8e","#8aa895","#82a399","#7c9f9f","#749aa8","#6a92b0","#5a85bb","#0000ff"]}}}}]}
